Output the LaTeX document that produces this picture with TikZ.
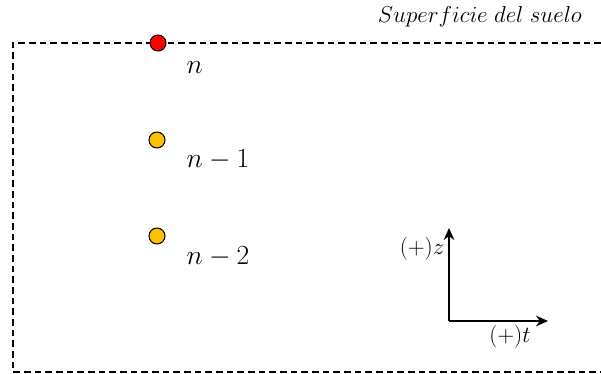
\documentclass[tikz,border=0pt]{standalone}
\usepackage{amsmath}
\usetikzlibrary{arrows.meta}
\definecolor{nodered}{RGB}{255,0,0}
\definecolor{nodegold}{RGB}{255,192,0}
\tikzset{
    capa/.style={circle, draw=black, thick, minimum size=12pt, inner sep=0pt},
    etiq/.style={font=\fontsize{20}{24}\selectfont},
    eje/.style={-{Stealth[length=9pt,width=8pt]}, line width=1.4pt}
}
\begin{document}
\begin{tikzpicture}[x=0.75pt, y=-0.75pt]
        \useasboundingbox (0,0) rectangle (601,374);
        \draw [line width=1.1pt, dash pattern=on 5pt off 3pt] (601,43) -- (13,43) -- (13,372) -- (601,372);
        \node [anchor=center, font=\fontsize{16}{19}\selectfont] (sup) at (480,17) {$Superficie\ del\ suelo$};
        \node [capa, fill=nodered] (c0) at (158,43) {};
        \node [capa, fill=nodegold] (c1) at (157,140) {};
        \node [capa, fill=nodegold] (c2) at (157,236) {};
        \node [etiq, anchor=west] (l0) at (182,68) {$n$};
        \node [etiq, anchor=west] (l1) at (182,160) {$n-1$};
        \node [etiq, anchor=west] (l2) at (182,257) {$n-2$};
        \coordinate (o) at (449,321);
        \coordinate (zt) at (449,228);
        \coordinate (tt) at (548,321);
        \draw [eje] (o) -- (zt);
        \draw [eje] (o) -- (tt);
        \node [anchor=east, inner sep=1pt, font=\fontsize{16}{19}\selectfont] (lz) at (446,249) {$(+)z$};
        \node [anchor=center, font=\fontsize{16}{19}\selectfont] (lt) at (510,337) {$(+)t$};
\end{tikzpicture}
\end{document}
